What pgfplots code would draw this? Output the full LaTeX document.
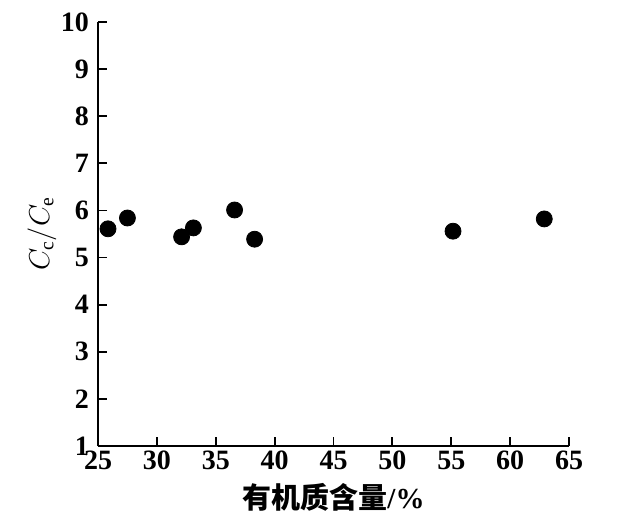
\documentclass[border=0pt]{standalone}
\usepackage{fontspec}
\setmainfont{Liberation Serif}
\newfontfamily\cjk{Noto Sans CJK SC}
\usepackage{pgfplots}
\pgfplotsset{compat=1.18}
\begin{document}
\begin{tikzpicture}
\begin{axis}[
  at={(0,0)}, anchor=south west,
  scale only axis,
  width=235.5pt, height=212pt,
  axis lines=left,
  axis line style={line width=0.9pt, -},
  xmin=25, xmax=65, ymin=1, ymax=10,
  xtick={25,30,...,65}, ytick={1,2,...,10},
  tick style={line width=0.9pt, black},
  tick align=inside,
  major tick length=4.5pt,
  /pgf/number format/assume math mode=true,
  ticklabel style={font=\fontsize{14}{16}\selectfont\bfseries},
  xticklabel style={yshift=1pt},
  yticklabel style={xshift=-1pt},
  xlabel={{\cjk\bfseries 有机质含量}\textbf{/\%}},
  xlabel style={font=\fontsize{14.5}{16}\selectfont, at={(axis description cs:0.5,-0.12)}, anchor=center},
  ylabel={$C_{\mathrm{c}}/C_{\mathrm{e}}$},
  ylabel style={font=\fontsize{14}{16}\selectfont, at={(axis description cs:-0.119,0.5)}, anchor=center, rotate=0},
  clip=false,
]
\addplot[only marks, mark=*, mark size=4pt, black] coordinates {
 (25.85,5.61) (27.5,5.84) (32.1,5.44) (33.1,5.63) (36.6,6.01) (38.3,5.39) (55.15,5.56) (62.9,5.82)
};
\end{axis}
\path[use as bounding box] (-49pt,-40pt) rectangle (261pt,223pt);
\end{tikzpicture}
\end{document}
